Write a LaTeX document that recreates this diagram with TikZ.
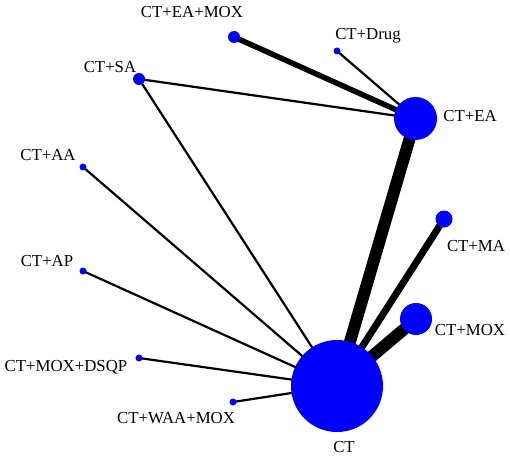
\documentclass[tikz,border=0pt]{standalone}
\usepackage{fontspec}
\setmainfont{Liberation Serif}
\usetikzlibrary{backgrounds}
\definecolor{netblue}{RGB}{0,0,255}

\begin{document}
\begin{tikzpicture}[
			x=1pt, y=-1pt,
			% --- Styles ---
			trt/.style={
				circle, fill=netblue, inner sep=0pt, minimum size=#1
			},
			trtlabel/.style={
				font=\fontsize{16.8}{18}\selectfont, inner sep=0pt
			},
			link/.style={
				draw, black, line width=#1
			}
			]
			\useasboundingbox (0,0) rectangle (510,457);
			
			% --- 1. Treatment nodes ---
			\node [trt=92pt] (ct) at (337,386) {};
			\node [trt=43pt] (ea) at (415.5,118.5) {};
			\node [trt=12pt] (eamox) at (234,37) {};
			\node [trt=7pt] (drug) at (337,51) {};
			\node [trt=12pt] (sa) at (139,79) {};
			\node [trt=7pt] (aa) at (83,167) {};
			\node [trt=7pt] (ap) at (83,271) {};
			\node [trt=7pt] (dsqp) at (139,358) {};
			\node [trt=7pt] (waa) at (233,402) {};
			\node [trt=17pt] (ma) at (444,219) {};
			\node [trt=32pt] (mox) at (416,319) {};
			
			% --- 2. Labels ---
			\node [trtlabel] (ct_lbl) at (344,447) {CT};
			\node [trtlabel] (ea_lbl) at (470,116) {CT+EA};
			\node [trtlabel] (eamox_lbl) at (192,12) {CT+EA+MOX};
			\node [trtlabel] (drug_lbl) at (368,36) {CT+Drug};
			\node [trtlabel] (sa_lbl) at (110,67) {CT+SA};
			\node [trtlabel] (aa_lbl) at (48,155) {CT+AA};
			\node [trtlabel] (ap_lbl) at (47,261) {CT+AP};
			\node [trtlabel] (dsqp_lbl) at (66,367) {CT+MOX+DSQP};
			\node [trtlabel] (waa_lbl) at (176,418) {CT+WAA+MOX};
			\node [trtlabel] (ma_lbl) at (476,246) {CT+MA};
			\node [trtlabel] (mox_lbl) at (470,330) {CT+MOX};
			
			% --- 3. Comparisons (behind the nodes) ---
			\begin{scope}[on background layer]
				\draw [link=12pt] (ct.center) -- (ea.center);
				\draw [link=12pt] (ct.center) -- (mox.center);
				\draw [link=7pt] (ct.center) -- (ma.center);
				\draw [link=5.5pt] (ea.center) -- (eamox.center);
				\draw [link=2.2pt] (ea.center) -- (drug.center);
				\draw [link=2.2pt] (ea.center) -- (sa.center);
				\draw [link=2.2pt] (ct.center) -- (sa.center);
				\draw [link=2.2pt] (ct.center) -- (aa.center);
				\draw [link=2.2pt] (ct.center) -- (ap.center);
				\draw [link=2.2pt] (ct.center) -- (dsqp.center);
				\draw [link=2.2pt] (ct.center) -- (waa.center);
			\end{scope}
			
		\end{tikzpicture}
\end{document}
